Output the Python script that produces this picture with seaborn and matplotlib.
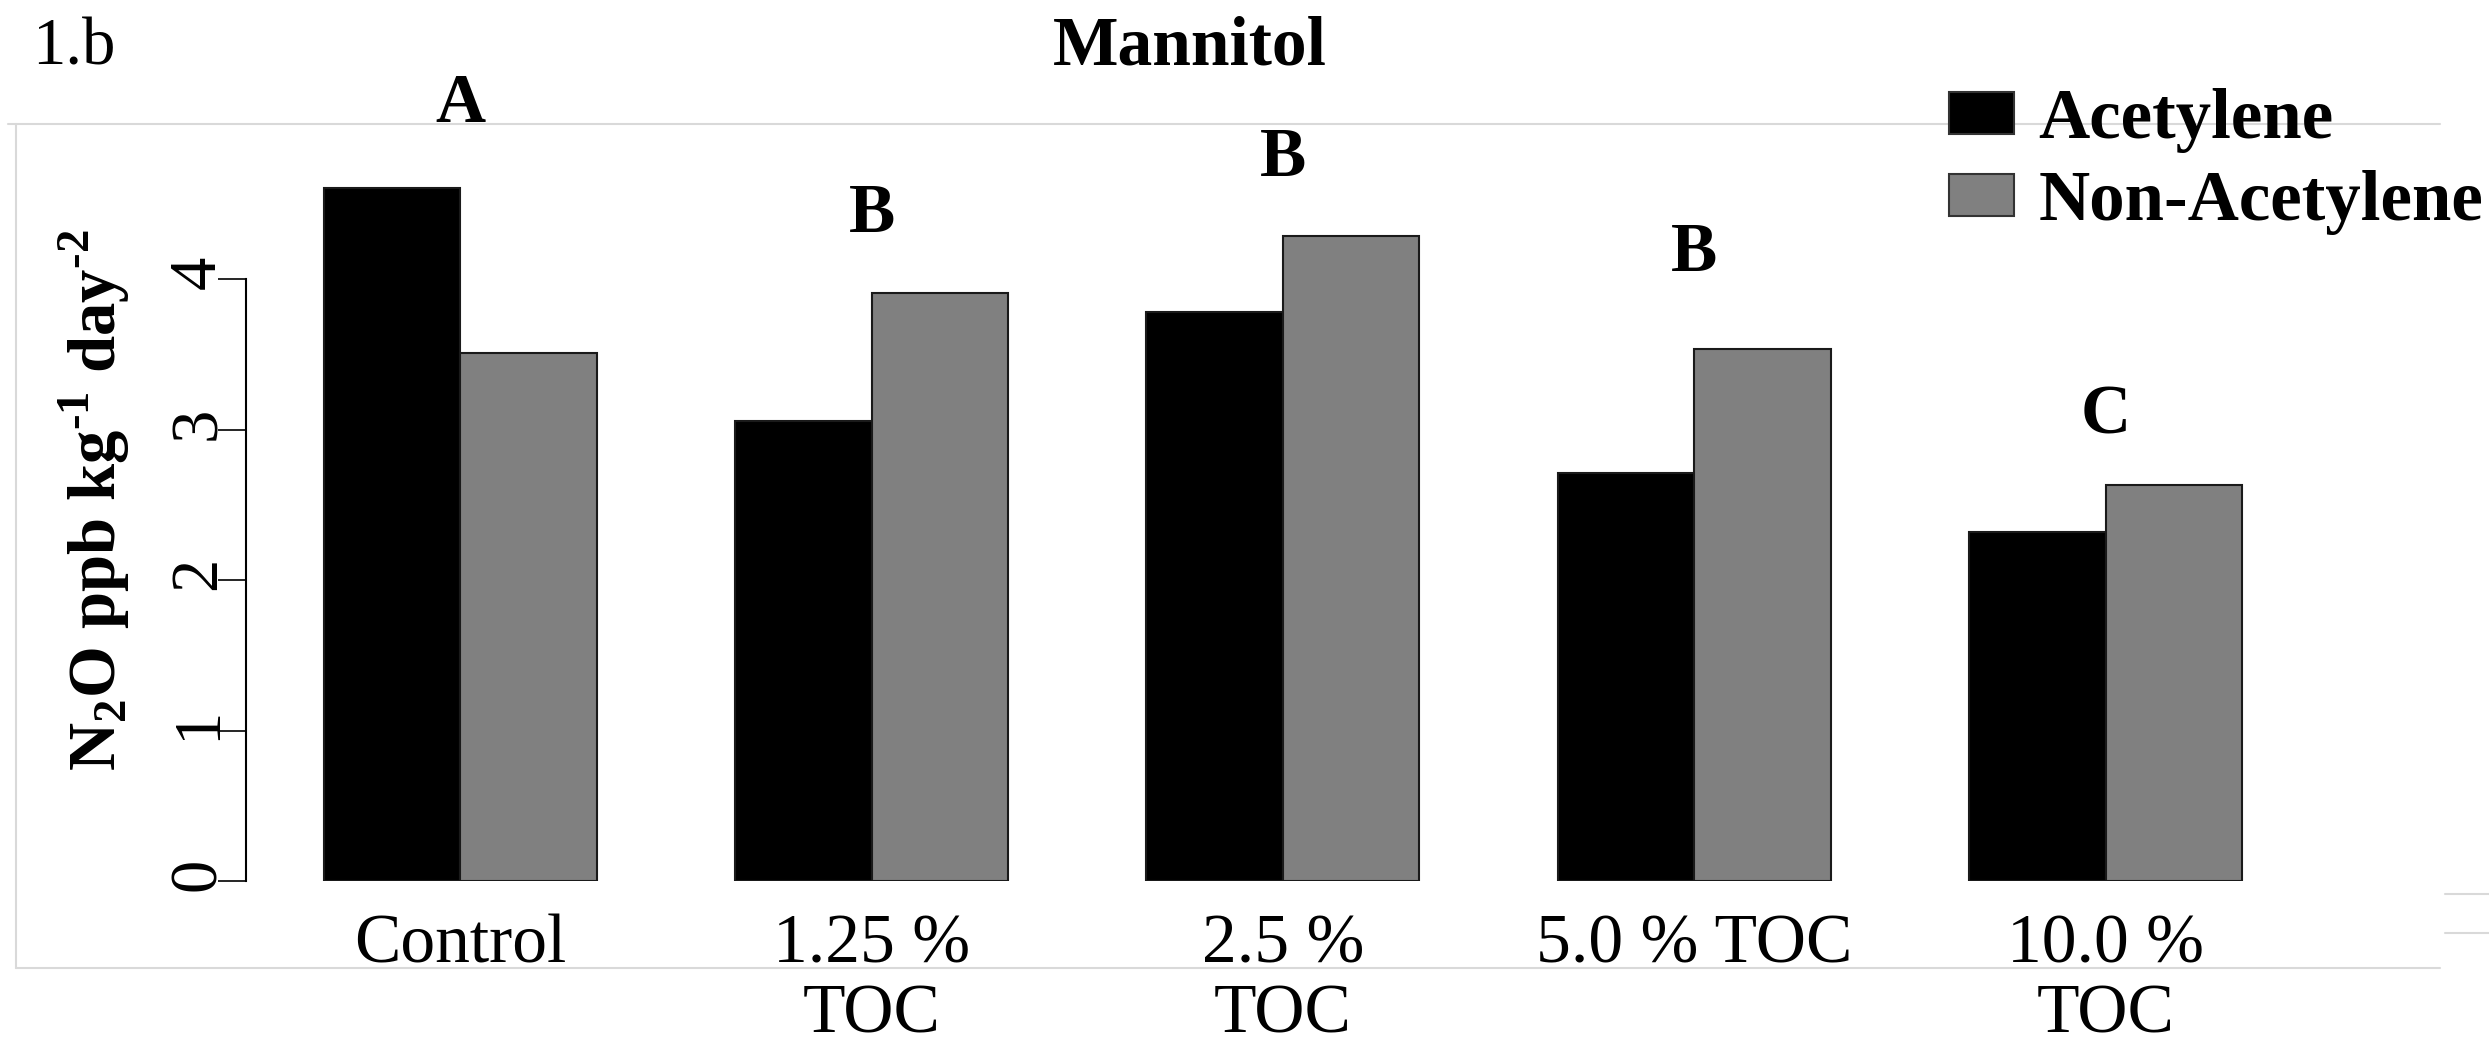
import pandas as pd
import matplotlib.pyplot as plt
import seaborn as sns
from matplotlib.lines import Line2D
from matplotlib.patches import Patch

# -----------------------------------
# Data
# -----------------------------------
treatments = ["Control", "1.25 %\nTOC", "2.5 %\nTOC", "5.0 % TOC", "10.0 %\nTOC"]
acetylene = [4.61, 3.06, 3.78, 2.71, 2.32]
non_acetylene = [3.51, 3.91, 4.29, 3.54, 2.63]
letters = ["A", "B", "B", "B", "C"]
letter_y = [5.16, 4.43, 4.80, 4.17, 3.09]
y_ticks = [0, 1, 2, 3, 4]
groups = ["Acetylene", "Non-Acetylene"]
colors = {"Acetylene": "#000000", "Non-Acetylene": "#808080"}

df = pd.DataFrame({
    "Treatment": treatments * 2,
    "Gas": [groups[0]] * len(acetylene) + [groups[1]] * len(non_acetylene),
    "N2O": acetylene + non_acetylene,
})

# -----------------------------------
# Style
# -----------------------------------
sns.set_style("white")
plt.rcParams["font.family"] = ["Liberation Serif", "DejaVu Serif"]
plt.rcParams["mathtext.fontset"] = "custom"
plt.rcParams["mathtext.rm"] = "Liberation Serif:bold"
plt.rcParams["mathtext.bf"] = "Liberation Serif:bold"
for key in ["text.color", "axes.labelcolor", "xtick.color", "ytick.color"]:
    plt.rcParams[key] = "black"
FS = 50

fig = plt.figure(figsize=(24.89, 10.48), dpi=100)
ax = fig.add_axes([0.0988, 0.1594, 0.8812, 0.7606])

sns.barplot(
    data=df, x="Treatment", y="N2O", hue="Gas",
    palette=colors, hue_order=groups, width=0.664,
    edgecolor="#1a1a1a", linewidth=1.5, saturation=1,
    errorbar=None, legend=False, ax=ax,
)

ax.set_xlim(-0.5208, 4.811)
ax.set_ylim(0, 5.3)
ax.set_yticks(y_ticks)
for s in ["top", "right", "bottom"]:
    ax.spines[s].set_visible(False)
ax.spines["left"].set_bounds(0, 4)
ax.spines["left"].set_color("black")
ax.spines["left"].set_linewidth(1.5)

ax.tick_params(axis="y", left=True, labelrotation=90, length=20, width=1.2,
               color="black", pad=-8, labelsize=48)
ax.tick_params(axis="x", bottom=False, length=0, pad=24, labelsize=FS)
for lab in ax.get_xticklabels():
    lab.set_linespacing(1.12)
ax.set_xlabel("")
ax.set_ylabel("")

ax.text(-0.0689, 0.478,
        r"N$_{\mathbf{2}}$O ppb kg$^{\text{-1}}$ day$^{\text{-2}}$",
        transform=ax.transAxes, rotation=90, ha="center", va="center",
        fontsize=48, fontweight="bold")

# significance letters
for i, (let, ly) in enumerate(zip(letters, letter_y)):
    ax.text(i, ly, let, ha="center", va="center", fontsize=FS,
            fontweight="bold", clip_on=False)

# titles
fig.text(0.478, 0.9546, "Mannitol", ha="center", va="center",
         fontsize=50, fontweight="bold")
fig.text(0.0129, 0.9546, "1.b", ha="left", va="center", fontsize=48)

# legend
handles = [Patch(facecolor=colors[g], edgecolor="#333333", linewidth=1.5) for g in groups]
fig.legend(handles, groups, loc="upper left", bbox_to_anchor=(1949 / 2489, 1 - 88 / 1048),
           frameon=False, prop={"weight": "bold", "size": 51},
           handlelength=0.92, handleheight=0.52, handletextpad=0.34,
           labelspacing=0.24, borderpad=0, borderaxespad=0)

# faint slide frame
frame_kw = dict(color="#d9d9d9", linewidth=1.5, transform=fig.transFigure)
fig.add_artist(Line2D([8 / 2489, 2440 / 2489], [1 - 124 / 1048, 1 - 124 / 1048], **frame_kw))
fig.add_artist(Line2D([16 / 2489, 16 / 2489], [1 - 124 / 1048, 1 - 968 / 1048], **frame_kw))
fig.add_artist(Line2D([16 / 2489, 2440 / 2489], [1 - 968 / 1048, 1 - 968 / 1048], **frame_kw))
fig.add_artist(Line2D([2445 / 2489, 1], [1 - 894 / 1048, 1 - 894 / 1048], **frame_kw))
fig.add_artist(Line2D([2445 / 2489, 1], [1 - 933 / 1048, 1 - 933 / 1048], **frame_kw))

fig.savefig("out.png", dpi=100)
